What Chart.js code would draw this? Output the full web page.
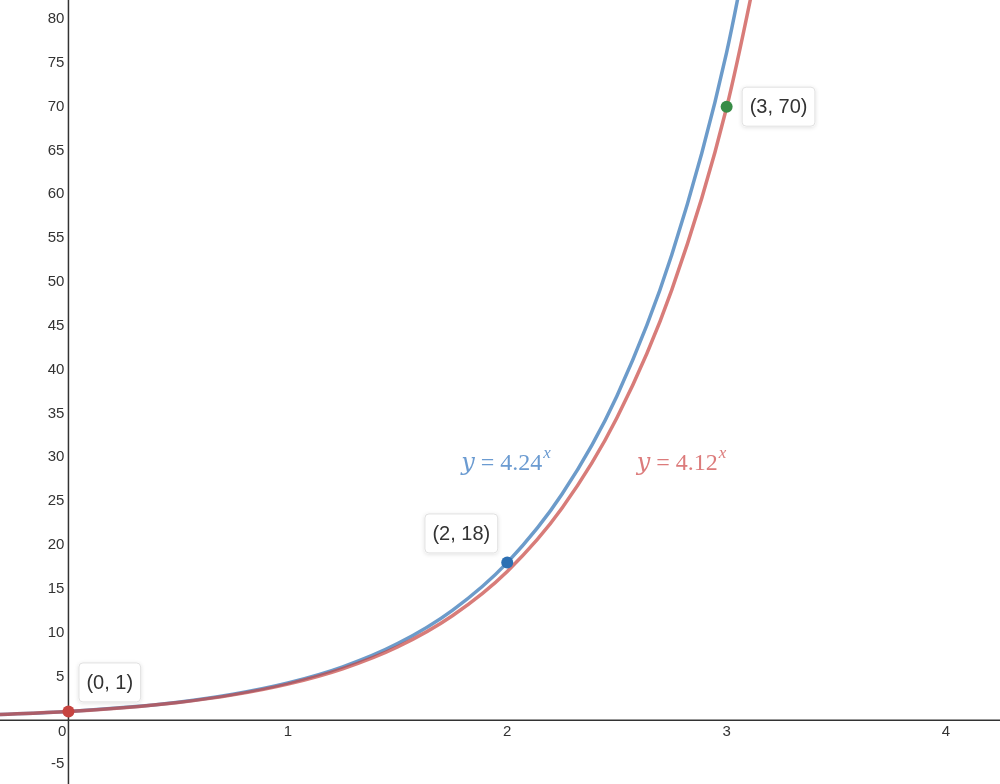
<!DOCTYPE html>
<html>
<head>
<meta charset="utf-8">
<script src="https://cdn.jsdelivr.net/npm/chart.js@4"></script>
<style>
  html, body { margin: 0; padding: 0; background: #fff; }
  #wrap { width: 1000px; height: 784px; }
</style>
</head>
<body>
<div id="wrap"><canvas id="grafico"></canvas></div>
<script>
// valores
const xs = [-0.35, 0, 0.25, 0.5, 0.75, 1, 1.25, 1.5, 1.75, 2, 2.25, 2.5, 2.75, 3, 3.25];
const azul = [0.60, 1, 1.44, 2.06, 2.96, 4.24, 6.08, 8.73, 12.53, 17.98, 25.8, 37.0, 53.1, 76.2, 109.4];
const vermelho = [0.61, 1, 1.43, 2.03, 2.89, 4.12, 5.87, 8.36, 11.92, 16.97, 24.2, 34.5, 49.1, 69.9, 99.7];

const pontos = [
  { x: 0, y: 1, cor: '#c74440', rotulo: '(0, 1)' },
  { x: 2, y: 18, cor: '#2d70b3', rotulo: '(2, 18)' },
  { x: 3, y: 70, cor: '#388c46', rotulo: '(3, 70)' }
];

const ticksX = [1, 2, 3, 4];
const ticksY = [-5, 5, 10, 15, 20, 25, 30, 35, 40, 45, 50, 55, 60, 65, 70, 75, 80];

const serie = (ys) => xs.map((x, i) => ({ x: x, y: ys[i] }));

// desenha eixos e rótulos dos ticks
const eixos = {
  id: 'eixos',
  beforeDatasetsDraw(chart) {
    const { ctx, scales: { x, y } } = chart;
    const x0 = x.getPixelForValue(0);
    const y0 = y.getPixelForValue(0);
    ctx.save();
    ctx.strokeStyle = '#333';
    ctx.lineWidth = 1.5;
    ctx.beginPath();
    ctx.moveTo(x0, 0); ctx.lineTo(x0, chart.height);
    ctx.moveTo(0, y0); ctx.lineTo(chart.width, y0);
    ctx.stroke();

    ctx.fillStyle = '#333';
    ctx.font = '15px "Liberation Sans", Arial, sans-serif';
    ctx.textAlign = 'right';
    ctx.textBaseline = 'middle';
    ticksY.forEach(v => ctx.fillText(String(v), x0 - 4, y.getPixelForValue(v)));
    ctx.fillText('0', x0 - 2, y0 + 12);
    ctx.textAlign = 'center';
    ticksX.forEach(v => ctx.fillText(String(v), x.getPixelForValue(v), y0 + 12));
    ctx.restore();
  }
};

function caixa(ctx, texto, esq, topo) {
  ctx.font = '20px "Liberation Sans", Arial, sans-serif';
  const w = ctx.measureText(texto).width + 16;
  const h = 40;
  ctx.save();
  ctx.shadowColor = 'rgba(0,0,0,0.12)';
  ctx.shadowBlur = 4;
  ctx.shadowOffsetY = 1;
  ctx.fillStyle = '#fff';
  ctx.beginPath();
  ctx.roundRect(esq, topo, w, h, 4);
  ctx.fill();
  ctx.restore();
  ctx.strokeStyle = '#e0e0e0';
  ctx.lineWidth = 1;
  ctx.beginPath();
  ctx.roundRect(esq + 0.5, topo + 0.5, w - 1, h - 1, 4);
  ctx.stroke();
  ctx.fillStyle = '#333';
  ctx.textAlign = 'left';
  ctx.textBaseline = 'middle';
  ctx.fillText(texto, esq + 8, topo + h / 2 + 1);
  return w;
}

function rotuloCurva(ctx, base, cor, esq, linhaBase) {
  ctx.save();
  ctx.fillStyle = cor;
  ctx.textBaseline = 'alphabetic';
  ctx.textAlign = 'left';
  let px = esq;
  ctx.font = 'italic 24px "DejaVu Serif", "Liberation Serif", serif';
  ctx.fillText('y', px, linhaBase);
  px += ctx.measureText('y').width + 6;
  ctx.font = '24px "Liberation Serif", serif';
  ctx.fillText('=', px, linhaBase);
  px += ctx.measureText('=').width + 6;
  ctx.fillText(base, px, linhaBase);
  px += ctx.measureText(base).width + 1;
  ctx.font = 'italic 17px "Liberation Serif", serif';
  ctx.fillText('x', px, linhaBase - 12);
  ctx.restore();
}

// pontos, caixas e rótulos das curvas
const anotacoes = {
  id: 'anotacoes',
  afterDatasetsDraw(chart) {
    const { ctx, scales: { x, y } } = chart;
    ctx.save();
    pontos.forEach(p => {
      ctx.fillStyle = p.cor;
      ctx.beginPath();
      ctx.arc(x.getPixelForValue(p.x), y.getPixelForValue(p.y), 6, 0, Math.PI * 2);
      ctx.fill();
    });
    const p0 = pontos[0], p1 = pontos[1], p2 = pontos[2];
    caixa(ctx, p0.rotulo, x.getPixelForValue(p0.x) + 10, y.getPixelForValue(p0.y) - 49);
    ctx.font = '20px "Liberation Sans", Arial, sans-serif';
    const w1 = ctx.measureText(p1.rotulo).width + 16;
    caixa(ctx, p1.rotulo, x.getPixelForValue(p1.x) - 9 - w1, y.getPixelForValue(p1.y) - 49);
    caixa(ctx, p2.rotulo, x.getPixelForValue(p2.x) + 15, y.getPixelForValue(p2.y) - 20);

    rotuloCurva(ctx, '4.24', '#6b9bd1', x.getPixelForValue(1.79), y.getPixelForValue(28.6));
    rotuloCurva(ctx, '4.12', '#dc7b7b', x.getPixelForValue(2.59), y.getPixelForValue(28.6));
    ctx.restore();
  }
};

new Chart(document.getElementById('grafico'), {
  type: 'scatter',
  data: {
    datasets: [
      {
        label: 'y = 4.24^x',
        data: serie(azul),
        showLine: true,
        borderColor: 'rgba(45,112,179,0.7)',
        borderWidth: 3.5,
        pointRadius: 0,
        cubicInterpolationMode: 'monotone',
        order: 2
      },
      {
        label: 'y = 4.12^x',
        data: serie(vermelho),
        showLine: true,
        borderColor: 'rgba(199,68,64,0.7)',
        borderWidth: 3.5,
        pointRadius: 0,
        cubicInterpolationMode: 'monotone',
        order: 1
      }
    ]
  },
  options: {
    responsive: true,
    maintainAspectRatio: false,
    animation: false,
    layout: { padding: 0 },
    plugins: { legend: { display: false }, tooltip: { enabled: false } },
    scales: {
      x: { type: 'linear', min: -0.312, max: 4.246, display: false },
      y: { type: 'linear', min: -7.28, max: 82.17, display: false }
    }
  },
  plugins: [eixos, anotacoes]
});
</script>
</body>
</html>
